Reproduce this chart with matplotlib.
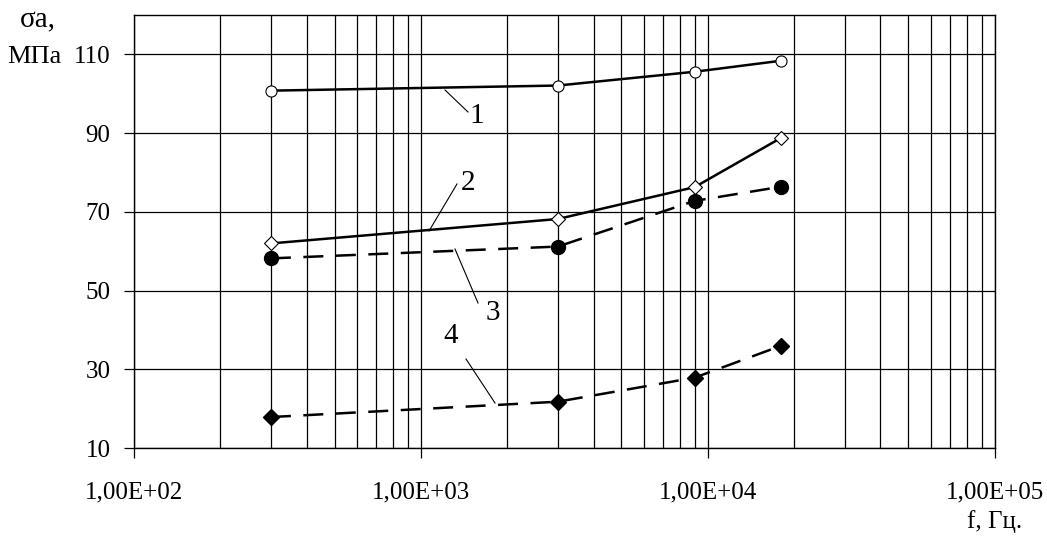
import numpy as np
import matplotlib
matplotlib.use('Agg')
import matplotlib.pyplot as plt
from matplotlib.ticker import FixedLocator, FixedFormatter, LogLocator, NullFormatter

plt.rcParams['font.family'] = ['Liberation Serif', 'DejaVu Serif']

# frequency, Hz
f = [300, 3000, 9000, 18000]
s1 = [100.8, 102.1, 105.6, 108.4]
s2 = [62.0, 68.2, 76.3, 88.8]
s3 = [58.2, 61.2, 72.8, 76.4]
s4 = [17.9, 21.8, 27.9, 36.0]

xticks = [1e2, 1e3, 1e4, 1e5]
xlabels = ['1,00E+02', '1,00E+03', '1,00E+04', '1,00E+05']
yticks = [10, 30, 50, 70, 90, 110]

fig = plt.figure(figsize=(10.47, 5.38), dpi=100)
ax = fig.add_axes([0.128, 0.167, 0.822, 0.805])

ax.plot(f, s1, color='black', lw=1.8, marker='o', ms=8, mfc='white', mec='black', mew=0.8)
ax.plot(f, s2, color='black', lw=1.8, marker='D', ms=7, mfc='white', mec='black', mew=0.8)
ax.plot(f, s3, color='black', lw=1.8, ls=(0, (8, 5)), marker='o', ms=10, mfc='black', mec='black')
ax.plot(f, s4, color='black', lw=1.8, ls=(0, (8, 5)), marker='D', ms=8, mfc='black', mec='black')

ax.set_xscale('log')
ax.set_xlim(1e2, 1e5)
ax.set_ylim(10, 120)

ax.xaxis.set_major_locator(FixedLocator(xticks))
ax.xaxis.set_major_formatter(FixedFormatter(xlabels))
ax.xaxis.set_minor_locator(LogLocator(base=10, subs=np.arange(2, 10)))
ax.xaxis.set_minor_formatter(NullFormatter())
ax.yaxis.set_major_locator(FixedLocator(yticks))

ax.grid(True, which='both', axis='x', color='black', lw=0.9)
ax.grid(True, which='major', axis='y', color='black', lw=0.9)
ax.tick_params(axis='x', which='major', length=7, width=0.9, direction='out', pad=17, labelsize=18)
ax.tick_params(axis='x', which='minor', length=0)
ax.tick_params(axis='y', length=7, width=0.9, direction='out', pad=10, labelsize=18)
for sp in ax.spines.values():
    sp.set_linewidth(1.0)
ax.set_axisbelow(True)

# curve numbers with leader lines
leaders = [
    ('1', (445, 90), (468, 112), (477, 116)),
    ('2', (429, 231), (457, 184), (468, 183)),
    ('3', (455, 249), (478, 303), (493, 313)),
    ('4', (495, 403), (466, 359), (451, 336)),
]
W, H = 1047, 538
for txt, p0, p1, pt in leaders:
    fig.add_artist(plt.Line2D([p0[0] / W, p1[0] / W], [1 - p0[1] / H, 1 - p1[1] / H],
                              color='black', lw=0.8))
    fig.text(pt[0] / W, 1 - pt[1] / H, txt, fontsize=21, ha='center', va='center')

fig.text(20 / W, 1 - 20 / H, 'σa,', fontsize=21, ha='left', va='center')
fig.text(7 / W, 1 - 57 / H, 'МПа', fontsize=19, ha='left', va='center')
fig.text(995 / W, 1 - 522 / H, 'f, Гц.', fontsize=18, ha='center', va='center')

fig.savefig('out.png', dpi=100)
